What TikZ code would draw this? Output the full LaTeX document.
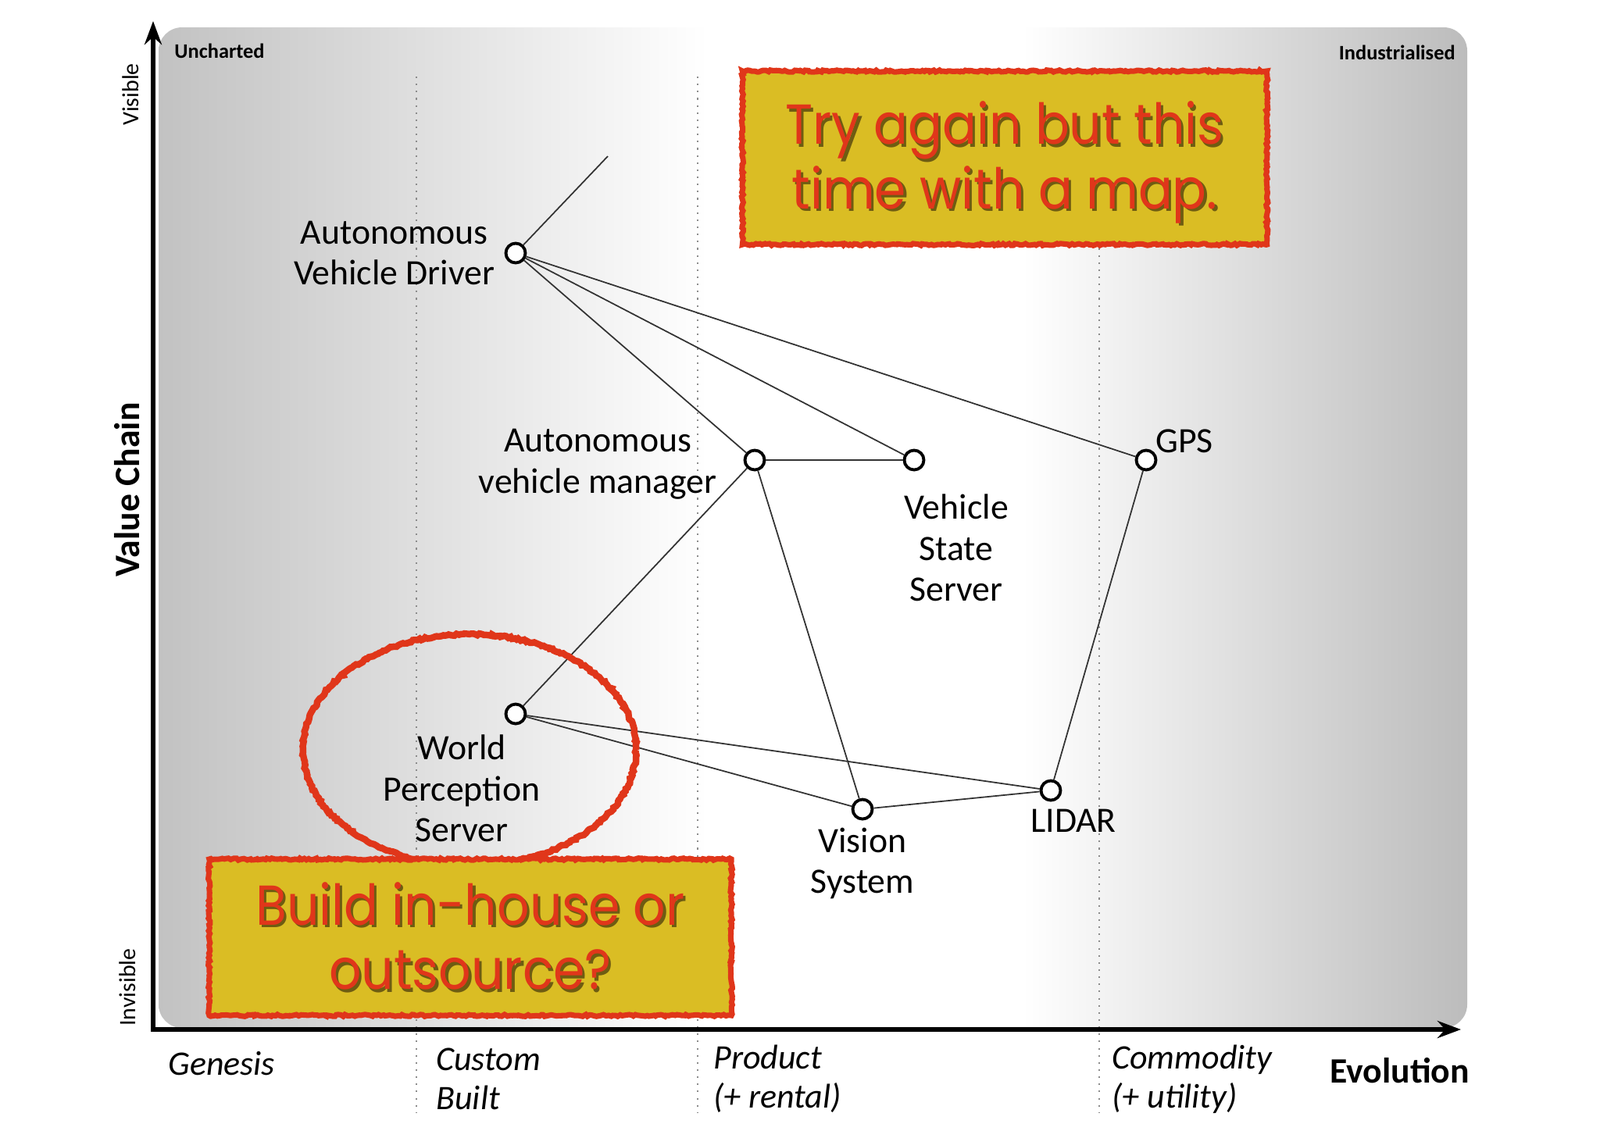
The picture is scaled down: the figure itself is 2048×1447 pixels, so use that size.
\documentclass[tikz,border=0pt]{standalone}
\usepackage{fontspec}
\setmainfont{Carlito}
\newfontfamily\notefont[FakeStretch=0.9]{Poppins}
\usetikzlibrary{positioning,arrows.meta,decorations.pathmorphing}
\definecolor{mapgrey}{HTML}{C2C2C2}
\definecolor{mapgreyr}{HTML}{BCBCBC}
\definecolor{noteyellow}{HTML}{DABD24}
\definecolor{notered}{HTML}{E0361A}
\definecolor{noteshade}{HTML}{6E5C12}
\pgfdeclarehorizontalshading{mapband}{100bp}{color(0bp)=(mapgrey); color(25bp)=(mapgrey); color(46bp)=(white); color(58bp)=(white); color(75bp)=(mapgreyr); color(100bp)=(mapgreyr)}
\newcommand\halo[1]{\leavevmode\rlap{\textcolor{noteshade}{\kern0.9pt\raisebox{-0.9pt}{#1}}}\textcolor{notered}{#1}}

\begin{document}
\begin{tikzpicture}[x=0.01cm, y=-0.01cm,
    comp/.style={circle, draw, line width=1.1pt, fill=white, minimum size=0.25cm, inner sep=0pt},
    link/.style={draw=black!80, line width=0.5pt},
    lbl/.style={align=center, inner sep=1pt, font=\fontsize{13}{15}\selectfont},
    stagesep/.style={draw=black!45, dotted, line width=0.6pt},
    axisline/.style={line width=1.5pt, line cap=rect, -{Stealth[length=0.3cm, width=0.22cm]}},
    stage/.style={anchor=west, align=left, font=\itshape\fontsize{12.5}{14.2}\selectfont},
    note/.style={draw=notered, line width=2pt, fill=noteyellow, decorate,
      decoration={random steps, segment length=0.8pt, amplitude=0.35pt},
      align=center, font=\notefont\fontsize{20.5}{23.5}\selectfont},
    ring/.style={draw=notered, line width=2.4pt, decorate,
      decoration={random steps, segment length=0.8pt, amplitude=0.35pt}}]
    \useasboundingbox (0,0) rectangle (2048,1447);
    % map background and stages
    \shade[shading=mapband, rounded corners=0.3cm] (203,35) rectangle (1878,1316);
    \foreach \gx in {533,893,1407}
        \draw[stagesep] (\gx,98) -- (\gx,1424);
    \coordinate (origin) at (196,1318);
    \coordinate (ytop) at (196,27);
    \coordinate (xend) at (1870,1318);
    \draw[axisline] (origin) -- (ytop);
    \draw[axisline] (origin) -- (xend);
    \node[rotate=90, font=\bfseries\fontsize{13}{15}\selectfont] (vchain) at (163,627) {Value Chain};
    \node[rotate=90, font=\fontsize{8.5}{10}\selectfont] (visible) at (167,121) {Visible};
    \node[rotate=90, font=\fontsize{8.5}{10}\selectfont] (invisible) at (163,1264) {Invisible};
    \node[anchor=west, font=\bfseries\fontsize{7.5}{9}\selectfont] (uncharted) at (211,65) {Uncharted};
    \node[anchor=east, font=\bfseries\fontsize{7.5}{9}\selectfont] (industrial) at (1875,67) {Industrialised};
    \node[stage] (genesis) at (203,1362) {Genesis};
    \node[stage] (custom) at (546,1381) {Custom\\Built};
    \node[stage] (product) at (901,1381) {Product\\(+ rental)};
    \node[stage] (commodity) at (1411,1382) {Commodity\\(+ utility)};
    \node[anchor=west, font=\bfseries\fontsize{13}{15}\selectfont] (evolution) at (1690,1371) {Evolution};
    % components
    \node[comp] (avd) at (660,324) {};
    \node[comp] (avm) at (966,589) {};
    \node[comp] (vss) at (1170,589) {};
    \node[comp] (gps) at (1467,589) {};
    \node[comp] (wps) at (660,914) {};
    \node[comp] (vis) at (1104,1036) {};
    \node[comp] (lidar) at (1345,1012) {};
    \coordinate (avdup) at (778,200);
    \draw[link] (avd) -- (avdup);
    \foreach \a/\b in {avd/avm, avd/vss, avd/gps, avm/vss, avm/wps, avm/vis, wps/vis, wps/lidar, vis/lidar, lidar/gps}
        \draw[link] (\a) -- (\b);
    \node[lbl, left=0.08cm of avd] (avdlbl) {Autonomous\\Vehicle Driver};
    \node[lbl, left=0.3cm of avm, yshift=-0.05cm] (avmlbl) {Autonomous\\vehicle manager};
    \node[lbl, below=0.25cm of vss, xshift=0.54cm] (vsslbl) {Vehicle\\State\\Server};
    \node[lbl, above right=-0.05cm and -0.02cm of gps] (gpslbl) {GPS};
    \node[lbl, below=0.08cm of wps, xshift=-0.69cm] (wpslbl) {World\\Perception\\Server};
    \node[lbl, below=0.05cm of vis] (vislbl) {Vision\\System};
    \node[lbl, below=0.05cm of lidar, xshift=0.29cm] (lidarlbl) {LIDAR};
    % annotations
    \draw[ring] (601,960) ellipse [x radius=2.13cm, y radius=1.48cm];
    \node[note, minimum width=6.71cm, minimum height=2.22cm] (trymap) at (1286,202)
        {\rule{0pt}{20pt}\halo{Try again but this}\\\halo{time with a map.}};
    \node[note, minimum width=6.68cm, minimum height=2.0cm] (inhouse) at (602,1200)
        {\halo{Build in-house or}\\\halo{outsource?}};
\end{tikzpicture}
\end{document}
